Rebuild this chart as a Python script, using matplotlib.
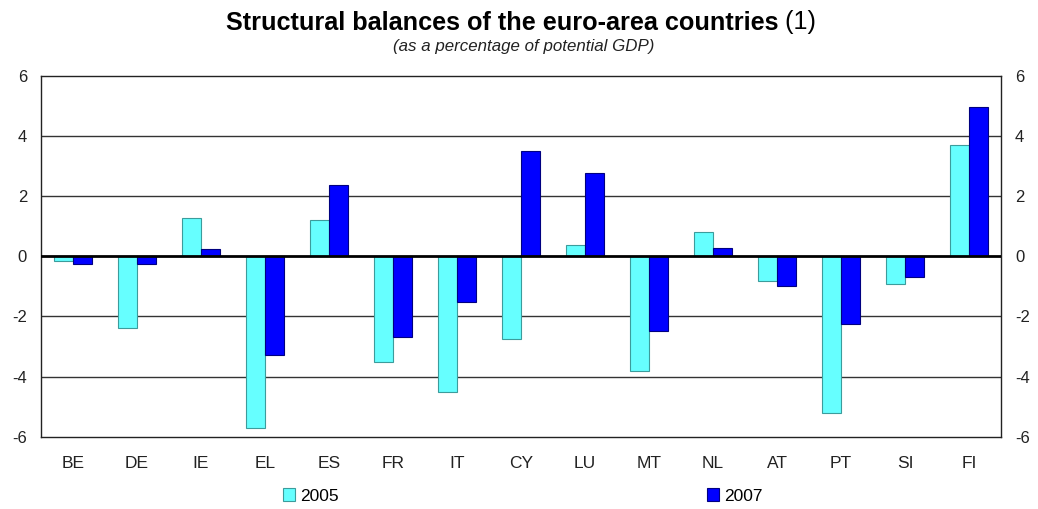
import numpy as np
import matplotlib
matplotlib.use("Agg")
import matplotlib.pyplot as plt

plt.rcParams['font.family'] = ['Liberation Sans', 'DejaVu Sans']
plt.rcParams['axes.unicode_minus'] = False

countries = ["BE", "DE", "IE", "EL", "ES", "FR", "IT", "CY", "LU", "MT",
             "NL", "AT", "PT", "SI", "FI"]
bal_2005 = [-0.15, -2.37, 1.29, -5.70, 1.22, -3.53, -4.50, -2.76, 0.37, -3.83,
            0.80, -0.81, -5.22, -0.91, 3.70]
bal_2007 = [-0.24, -0.27, 0.24, -3.28, 2.38, -2.68, -1.52, 3.50, 2.77, -2.47,
            0.28, -0.97, -2.26, -0.68, 4.96]
yticks = [-6, -4, -2, 0, 2, 4, 6]

W, H = 1038, 509
fig = plt.figure(figsize=(W / 100, H / 100), dpi=100)
ax = fig.add_axes([41 / W, (H - 436.7) / H, 960 / W, 360.7 / H])

x = np.arange(len(countries))
bw = 0.29
b1 = ax.bar(x - bw / 2, bal_2005, bw, color="#66FFFF", edgecolor="#3C9C9C",
            linewidth=0.8, label="2005", zorder=3)
b2 = ax.bar(x + bw / 2, bal_2007, bw, color="#0000FF", edgecolor="#000080",
            linewidth=0.8, label="2007", zorder=3)

ax.set_xlim(-0.5, len(countries) - 0.5)
ax.set_ylim(-6, 6)
ax.set_yticks(yticks)
ax.set_xticks(x)
ax.set_xticklabels(countries)

for v in yticks[1:-1]:
    if v != 0:
        ax.axhline(v, color="#333333", linewidth=1.0, zorder=1)
ax.axhline(0, color="black", linewidth=2.0, zorder=4)

for s in ax.spines.values():
    s.set_color("#222222")
    s.set_linewidth(1.0)

ax.tick_params(axis="y", length=0, pad=10, labelsize=12, labelcolor="#222222",
               right=True, labelright=True)
ax.tick_params(axis="x", length=0, pad=14, labelsize=12.5, labelcolor="#222222")

# title: bold main part followed by a plain "(1)"
fig.text(778 / W, 1 - 22.5 / H, "Structural balances of the euro-area countries", ha="right",
         va="center", fontsize=18.2, fontweight="bold")
fig.text(778 / W, 1 - 22.5 / H, " (1)", ha="left", va="center", fontsize=18.2)
fig.text(524 / W, 1 - 47 / H, "(as a percentage of potential GDP)", ha="center",
         va="center", fontsize=12.2, style="italic", color="#222222")

leg_kw = dict(frameon=False, fontsize=12.5, handlelength=0.7, handleheight=0.7,
              handletextpad=0.3, borderpad=0, borderaxespad=0)
fig.legend(handles=[b1], loc="center left", bbox_to_anchor=(283 / W, 1 - 496 / H), **leg_kw)
fig.legend(handles=[b2], loc="center left", bbox_to_anchor=(707 / W, 1 - 496 / H), **leg_kw)

fig.savefig("out.png", dpi=100)
